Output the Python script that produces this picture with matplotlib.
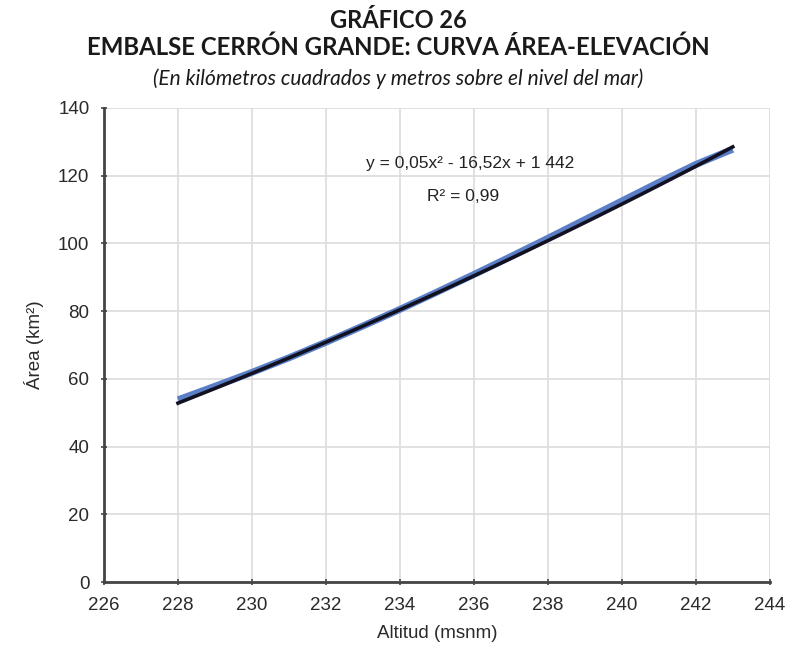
import numpy as np
import matplotlib

matplotlib.use("Agg")
import matplotlib.pyplot as plt

# data
altitud = [228, 229, 230, 231, 232, 233, 234, 235, 236, 237, 238, 239, 240, 241, 242, 243]
area = [53.8, 57.8, 61.9, 66.2, 70.8, 75.6, 80.5, 85.6, 90.8, 96.1, 101.5, 107.0, 112.5, 118.0, 123.3, 127.8]

x_ticks = list(range(226, 245, 2))
y_ticks = list(range(0, 141, 20))

title_1 = "GRÁFICO 26"
title_2 = "EMBALSE CERRÓN GRANDE: CURVA ÁREA-ELEVACIÓN"
subtitle = "(En kilómetros cuadrados y metros sobre el nivel del mar)"
equation = "y = 0,05x² - 16,52x + 1 442"
r2_label = "R² = 0,99"

plt.rcParams["font.family"] = ["Liberation Sans", "DejaVu Sans"]

fig = plt.figure(figsize=(7.96, 6.5), dpi=100)
ax = fig.add_axes([0.1307, 0.1046, 0.8363, 0.7294])

x = np.array(altitud, dtype=float)
y = np.array(area, dtype=float)
coef = np.polyfit(x, y, 2)
xs = np.linspace(x.min(), x.max(), 100)

ax.plot(x, y, color="#5b7fc7", linewidth=5, solid_capstyle="butt", zorder=3)
ax.plot(xs, np.polyval(coef, xs) - 0.4, color="#111122", linewidth=2.6, zorder=4)

ax.set_xlim(226, 244)
ax.set_ylim(0, 140)
ax.set_xticks(x_ticks)
ax.set_yticks(y_ticks)
ax.grid(True, color="#dcdcdc", linewidth=1.2)
ax.set_axisbelow(True)

for side in ("top", "right"):
    ax.spines[side].set_visible(False)
for side in ("left", "bottom"):
    ax.spines[side].set_color("#444444")
    ax.spines[side].set_linewidth(2)

ax.tick_params(direction="inout", length=5, width=1.2, color="#444444",
               labelsize=13.5, labelcolor="#2a2a2a", pad=8)

ax.set_xlabel("Altitud (msnm)", fontsize=13.5, color="#2a2a2a", labelpad=8)
ax.set_ylabel("Área (km²)", fontsize=13.5, color="#2a2a2a", labelpad=10)

ax.text(235.9, 123.7, equation, fontsize=12.5, color="#222222", ha="center", va="center")
ax.text(235.7, 113.7, r2_label, fontsize=12.5, color="#222222", ha="center", va="center")

fig.text(0.5, 0.9569, title_1, ha="center", va="baseline", fontsize=17, fontweight="bold",
         family="Lato", color="#1a1a1a")
fig.text(0.5, 0.9154, title_2, ha="center", va="baseline", fontsize=17.3, fontweight="bold",
         family="Lato", color="#1a1a1a")
fig.text(0.5, 0.869, subtitle, ha="center", va="baseline", fontsize=15, style="italic",
         family="Lato", color="#1a1a1a")

fig.savefig("out.png", dpi=100)
